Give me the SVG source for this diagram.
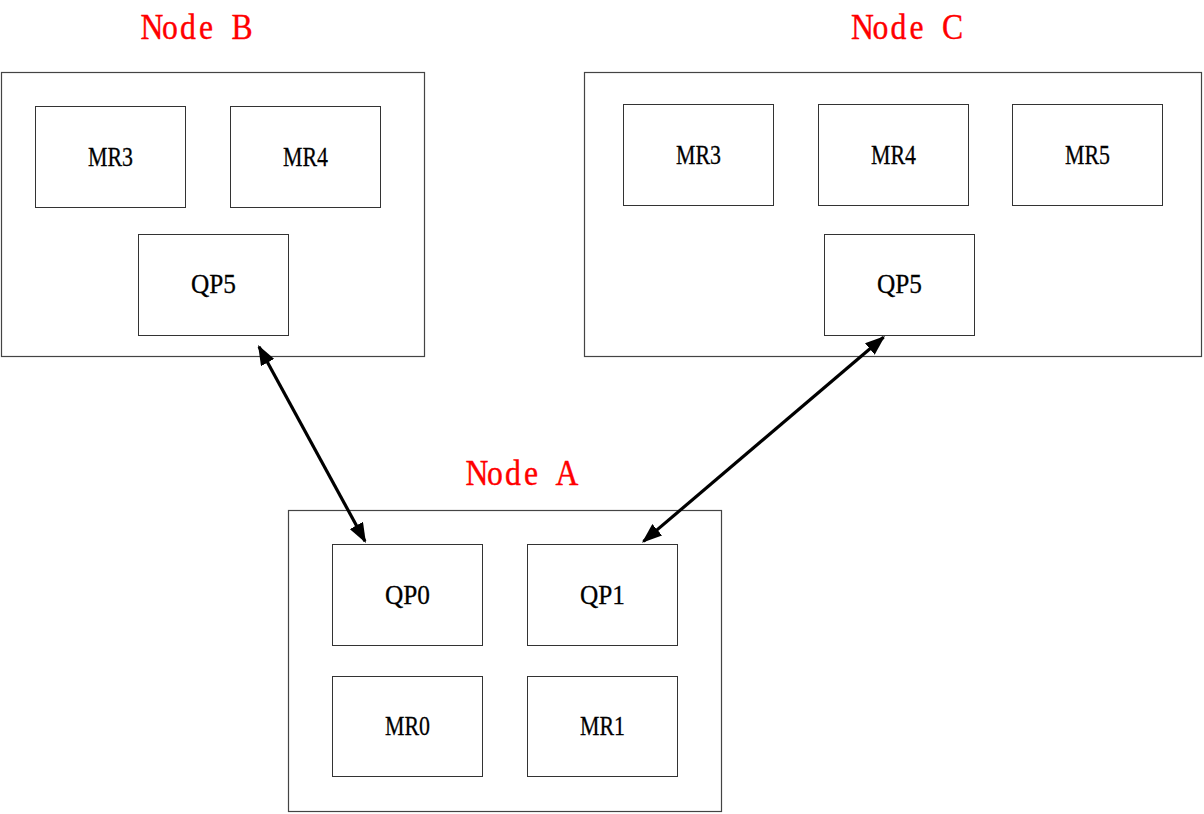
<svg xmlns="http://www.w3.org/2000/svg" width="1204" height="814" viewBox="0 0 1204 814">
<style>
.outer{fill:#fff;stroke:#444;stroke-width:1.2}
.box{fill:#fff;stroke:#333;stroke-width:1}
.lbl{font-family:"Liberation Serif",serif;font-size:28px;fill:#000;stroke:#000;stroke-width:0.3;text-anchor:middle}
.title{font-family:"Liberation Serif",serif;font-size:36px;fill:#f00;stroke:#f00;stroke-width:0.4;text-anchor:middle}
.conn{stroke:#000;stroke-width:3.2;fill:none}
</style>
<defs>
<marker id="ah" viewBox="0 0 20 15" refX="18" refY="7.5" markerWidth="20" markerHeight="15" markerUnits="userSpaceOnUse" orient="auto-start-reverse">
<path d="M0,0 L20,7.5 L0,15 z" fill="#000"/>
</marker>
</defs>
<rect width="1204" height="814" fill="#fff"/>
<g id="nodeB">
<text class="title" transform="scale(0.88,1)" x="172.7 193.2 213.6 234.1 254.5 275.0" y="39.5">Node B</text>
<rect class="outer" x="1.5" y="72.5" width="423" height="284"/>
<g id="B-MR3"><rect class="box" x="35.5" y="106.5" width="150" height="101"/><text class="lbl" x="110.5" y="166" textLength="45" lengthAdjust="spacingAndGlyphs">MR3</text></g>
<g id="B-MR4"><rect class="box" x="230.5" y="106.5" width="150" height="101"/><text class="lbl" x="305.5" y="166" textLength="45" lengthAdjust="spacingAndGlyphs">MR4</text></g>
<g id="B-QP5"><rect class="box" x="138.5" y="234.5" width="150" height="101"/><text class="lbl" x="213.5" y="293" textLength="45" lengthAdjust="spacingAndGlyphs">QP5</text></g>
</g>
<g id="nodeC">
<text class="title" transform="scale(0.88,1)" x="980.1 1000.6 1021.0 1041.5 1061.9 1082.4" y="39.5">Node C</text>
<rect class="outer" x="584.5" y="72.5" width="617" height="284"/>
<g id="C-MR3"><rect class="box" x="623.5" y="104.5" width="150" height="101"/><text class="lbl" x="698.5" y="164" textLength="45" lengthAdjust="spacingAndGlyphs">MR3</text></g>
<g id="C-MR4"><rect class="box" x="818.5" y="104.5" width="150" height="101"/><text class="lbl" x="893.5" y="164" textLength="45" lengthAdjust="spacingAndGlyphs">MR4</text></g>
<g id="C-MR5"><rect class="box" x="1012.5" y="104.5" width="150" height="101"/><text class="lbl" x="1087.5" y="164" textLength="45" lengthAdjust="spacingAndGlyphs">MR5</text></g>
<g id="C-QP5"><rect class="box" x="824.5" y="234.5" width="150" height="101"/><text class="lbl" x="899.5" y="293" textLength="45" lengthAdjust="spacingAndGlyphs">QP5</text></g>
</g>
<g id="nodeA">
<text class="title" transform="scale(0.88,1)" x="542.0 562.5 583.0 603.4 623.9 644.3" y="485.5">Node A</text>
<rect class="outer" x="288.5" y="510.5" width="433" height="301"/>
<g id="A-QP0"><rect class="box" x="332.5" y="544.5" width="150" height="101"/><text class="lbl" x="407.5" y="603.5" textLength="45" lengthAdjust="spacingAndGlyphs">QP0</text></g>
<g id="A-QP1"><rect class="box" x="527.5" y="544.5" width="150" height="101"/><text class="lbl" x="602.5" y="603.5" textLength="45" lengthAdjust="spacingAndGlyphs">QP1</text></g>
<g id="A-MR0"><rect class="box" x="332.5" y="676.5" width="150" height="100"/><text class="lbl" x="407.5" y="735" textLength="45" lengthAdjust="spacingAndGlyphs">MR0</text></g>
<g id="A-MR1"><rect class="box" x="527.5" y="676.5" width="150" height="100"/><text class="lbl" x="602.5" y="735" textLength="45" lengthAdjust="spacingAndGlyphs">MR1</text></g>
</g>
<g id="connectors">
<line class="conn" x1="259" y1="346.8" x2="365" y2="541.2" marker-start="url(#ah)" marker-end="url(#ah)"/>
<line class="conn" x1="883.5" y1="337.3" x2="643.5" y2="541.4" marker-start="url(#ah)" marker-end="url(#ah)"/>
</g>
</svg>
